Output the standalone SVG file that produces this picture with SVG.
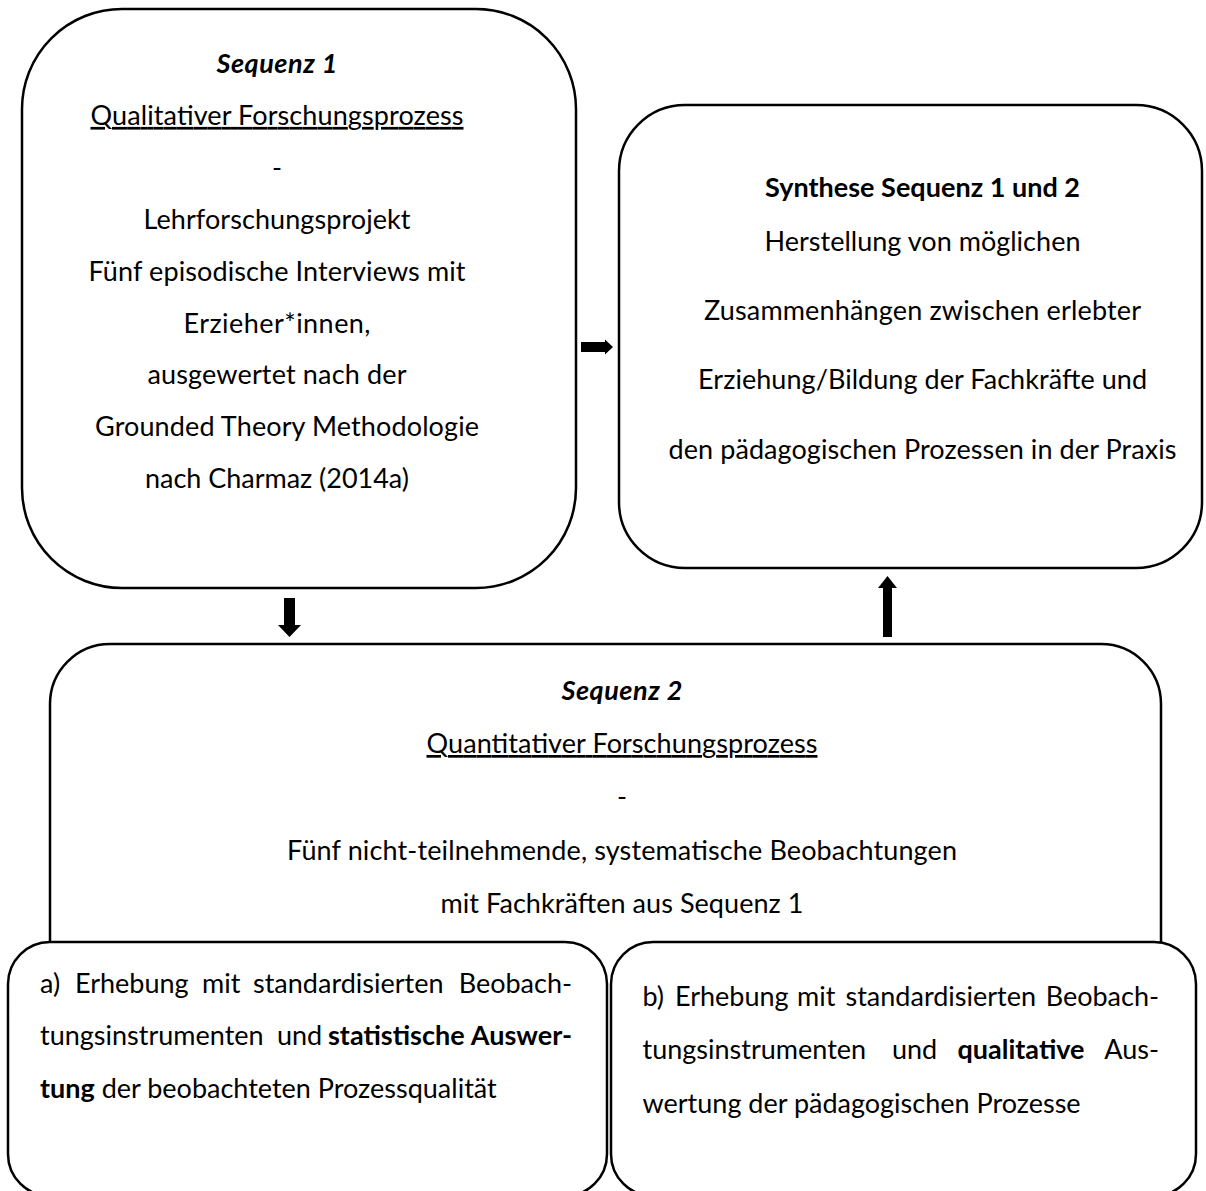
<svg xmlns="http://www.w3.org/2000/svg" width="1206" height="1191" viewBox="0 0 1206 1191">
  <style>
    .box { fill: #fff; stroke: #000; stroke-width: 2.5; }
    .t { font-family: Lato, "Liberation Sans", sans-serif; font-size: 27px; fill: #000; }
    .c { text-anchor: middle; }
    .e { text-anchor: end; }
    .b { font-weight: bold; }
    .bi { font-weight: bold; font-style: italic; }
    .u { text-decoration: underline; }
    .arrow { fill: #000; }
  </style>
  <rect width="1206" height="1191" fill="#fff"/>

  <!-- Sequenz 1: qualitative part -->
  <g id="sequenz1">
    <rect class="box" x="22" y="9" width="554" height="579" rx="100" ry="100"/>
    <text class="t c bi" x="277" y="73" textLength="121">Sequenz 1</text>
    <text class="t c u" x="277" y="124.9" textLength="373">Qualitativer Forschungsprozess</text>
    <text class="t c" x="277" y="176.8">-</text>
    <text class="t c" x="277" y="228.7" textLength="267">Lehrforschungsprojekt</text>
    <text class="t c" x="277" y="280.6" textLength="377">Fünf episodische Interviews mit</text>
    <text class="t c" x="277" y="332.5" textLength="187">Erzieher*innen,</text>
    <text class="t c" x="277" y="384.4" textLength="259">ausgewertet nach der</text>
    <text class="t c" x="287" y="436.3" textLength="384">Grounded Theory Methodologie</text>
    <text class="t c" x="277" y="488.2" textLength="264">nach Charmaz (2014a)</text>
  </g>

  <!-- Synthesis of both sequences -->
  <g id="synthese">
    <rect class="box" x="619" y="105" width="583" height="463" rx="66" ry="66"/>
    <text class="t c b" x="922.5" y="197" textLength="315">Synthese Sequenz 1 und 2</text>
    <text class="t c" x="922.5" y="251" textLength="316">Herstellung von möglichen</text>
    <text class="t c" x="922.5" y="320" textLength="437">Zusammenhängen zwischen erlebter</text>
    <text class="t c" x="922.5" y="389" textLength="449">Erziehung/Bildung der Fachkräfte und</text>
    <text class="t c" x="922.5" y="459" textLength="508">den pädagogischen Prozessen in der Praxis</text>
  </g>

  <!-- Sequenz 2: quantitative part (bottom edge hidden by the two sub-boxes) -->
  <g id="sequenz2">
    <path class="box" d="M50,960 V704 A60,60 0 0 1 110,644 H1101 A60,60 0 0 1 1161,704 V960"/>
    <text class="t c bi" x="622" y="700" textLength="121">Sequenz 2</text>
    <text class="t c u" x="622" y="753" textLength="391">Quantitativer Forschungsprozess</text>
    <text class="t c" x="622" y="806">-</text>
    <text class="t c" x="622" y="860" textLength="670">Fünf nicht-teilnehmende, systematische Beobachtungen</text>
    <text class="t c" x="622" y="913" textLength="363">mit Fachkräften aus Sequenz 1</text>
  </g>

  <!-- Sub-box a: statistical evaluation -->
  <g id="teil-a">
    <rect class="box" x="8" y="942" width="599" height="254" rx="42" ry="42"/>
    <text class="t" y="993"><tspan x="40">a)</tspan><tspan x="75">Erhebung</tspan><tspan x="202">mit</tspan><tspan x="253">standardisierten</tspan></text>
    <text class="t e" x="572" y="993">Beobach-</text>
    <text class="t" y="1045"><tspan x="40">tungsinstrumenten</tspan><tspan x="277">und</tspan><tspan class="b" x="328">statistische</tspan></text>
    <text class="t e b" x="572" y="1045">Auswer-</text>
    <text class="t" x="40" y="1098"><tspan class="b">tung</tspan> der beobachteten Prozessqualität</text>
  </g>

  <!-- Sub-box b: qualitative evaluation -->
  <g id="teil-b">
    <rect class="box" x="611" y="942" width="585" height="254" rx="42" ry="42"/>
    <text class="t" y="1006"><tspan x="642.5">b)</tspan><tspan x="675">Erhebung</tspan><tspan x="797">mit</tspan><tspan x="845.5">standardisierten</tspan></text>
    <text class="t e" x="1159" y="1006">Beobach-</text>
    <text class="t" y="1059"><tspan x="642.5">tungsinstrumenten</tspan><tspan x="892">und</tspan><tspan class="b" x="957.5">qualitative</tspan></text>
    <text class="t e" x="1159" y="1059">Aus-</text>
    <text class="t" x="642.5" y="1113">wertung der pädagogischen Prozesse</text>
  </g>

  <!-- Block arrows between the stages -->
  <g id="connectors">
    <polygon class="arrow" points="581,342 605,342 605,339.5 613,347 605,354.5 605,352 581,352"/>
    <polygon class="arrow" points="284,598 295,598 295,625 301,625 289.5,637 278,625 284,625"/>
    <polygon class="arrow" points="883,637 892,637 892,588 897,588 887.5,576 878,588 883,588"/>
  </g>
</svg>
